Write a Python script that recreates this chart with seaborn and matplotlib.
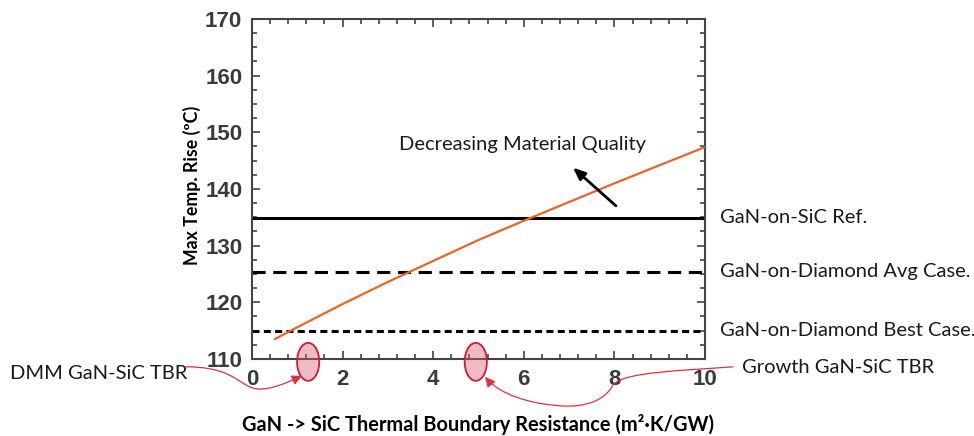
import numpy as np
import pandas as pd
import seaborn as sns
import matplotlib.pyplot as plt
from matplotlib.patches import Ellipse, FancyArrowPatch
from matplotlib.path import Path
from matplotlib.ticker import MultipleLocator

# Max temperature rise vs. GaN -> SiC thermal boundary resistance
tbr = [0.5, 1, 2, 3, 4, 5, 6, 7, 8, 9, 10]
temp_rise = [113.5, 115.6, 119.7, 123.6, 127.3, 131.0, 134.4, 137.7, 141.0, 144.2, 147.4]

# Reference levels
ref_names = ["GaN-on-SiC Ref.", "GaN-on-Diamond Avg Case.", "GaN-on-Diamond Best Case."]
ref_values = [134.9, 125.4, 115.0]

# Measured / modelled TBR values highlighted on the x-axis
tbr_marks = [1.24, 4.94]
tbr_mark_names = ["DMM GaN-SiC TBR", "Growth GaN-SiC TBR"]

xticks = [0, 2, 4, 6, 8, 10]
yticks = [110, 120, 130, 140, 150, 160, 170]

sns.set_theme(style="ticks")
plt.rcParams["font.family"] = ["Lato", "DejaVu Sans"]

W, H = 974, 436
fig = plt.figure(figsize=(W / 100, H / 100), dpi=100)
ax = fig.add_axes([252 / W, 1 - 359 / H, 453 / W, 340 / H])

df = pd.DataFrame({"tbr": tbr, "temp": temp_rise})
sns.lineplot(data=df, x="tbr", y="temp", ax=ax, color="#e8652b", lw=1.6, zorder=3)

styles = [dict(ls="-"), dict(ls=(0, (4.3, 2.5))), dict(ls=(0, (2.3, 1.4)))]
for name, val, st in zip(ref_names, ref_values, styles):
    ax.axhline(val, color="black", lw=2.2, zorder=2, **st)
    ax.text(1.033, val, name, transform=ax.get_yaxis_transform(), ha="left",
            va="center", fontsize=14.5, color="#1a1a1a", clip_on=False)

ax.set_xlim(0, 10)
ax.set_ylim(110, 170)
ax.set_xticks(xticks)
ax.set_yticks(yticks)
ax.xaxis.set_minor_locator(MultipleLocator(0.4))
ax.yaxis.set_minor_locator(MultipleLocator(2.5))
ax.tick_params(which="both", direction="in", top=True, right=True, color="#444444", width=1.2)
ax.tick_params(which="major", length=6, pad=7, labelsize=16, labelcolor="#3a3a3a")
ax.tick_params(which="minor", length=3.5)
for lab in ax.get_xticklabels() + ax.get_yticklabels():
    lab.set_fontfamily("Liberation Sans")
    lab.set_fontweight("bold")
for sp in ax.spines.values():
    sp.set_color("#444444")
    sp.set_linewidth(1.5)

ax.set_xlabel("GaN -> SiC Thermal Boundary Resistance (m²·K/GW)", fontsize=14.4,
              fontweight="bold", color="black")
ax.set_ylabel("Max Temp. Rise (ºC)", fontsize=12.8, fontweight="bold", color="black")
ax.xaxis.label.set(va="center", ha="center")
ax.yaxis.label.set(va="center", ha="center")
ax.xaxis.set_label_coords(0.498, -0.194)
ax.yaxis.set_label_coords(-0.132, 0.512)

# Trend arrow
ax.annotate("", xy=(7.04, 144.1), xytext=(8.08, 136.7),
            arrowprops=dict(arrowstyle="-|>,head_length=0.6,head_width=0.25",
                            color="black", lw=2), annotation_clip=False)
ax.text(5.98, 147.8, "Decreasing Material Quality", ha="center", va="center",
        fontsize=14.5, color="#1a1a1a")

# Highlighted TBR values
for xm in tbr_marks:
    ax.add_patch(Ellipse((xm, 109.5), 0.49, 6.7, facecolor=(0.85, 0.35, 0.4, 0.4),
                         edgecolor="#c41e3a", lw=1.3, clip_on=False, zorder=5))

ax.text(-5.34, 107.4, tbr_mark_names[0], ha="left", va="center", fontsize=14.5,
        color="#1a1a1a", clip_on=False)
ax.text(10.82, 108.45, tbr_mark_names[1], ha="left", va="center", fontsize=14.5,
        color="#1a1a1a", clip_on=False)


def px(x, y):
    return ((x - 252) / 45.3, 170 - (y - 19) / 5.67)


C4 = Path.CURVE4
paths = [
    ([px(185, 367), px(260, 367), px(230, 410), px(302, 376)],
     [Path.MOVETO, C4, C4, C4]),
    ([px(733, 367), px(680, 371), px(625, 372), px(613, 385),
      px(605, 401), px(585, 408), px(560, 406),
      px(530, 404), px(500, 395), px(485, 377)],
     [Path.MOVETO, C4, C4, C4, C4, C4, C4, C4, C4, C4]),
]
for verts, codes in paths:
    ax.add_patch(FancyArrowPatch(path=Path(verts, codes),
                                 arrowstyle="-|>,head_length=0.6,head_width=0.3",
                                 mutation_scale=10, color="#d9343f", lw=0.9,
                                 clip_on=False, zorder=6))

fig.savefig("out.png", dpi=100)
